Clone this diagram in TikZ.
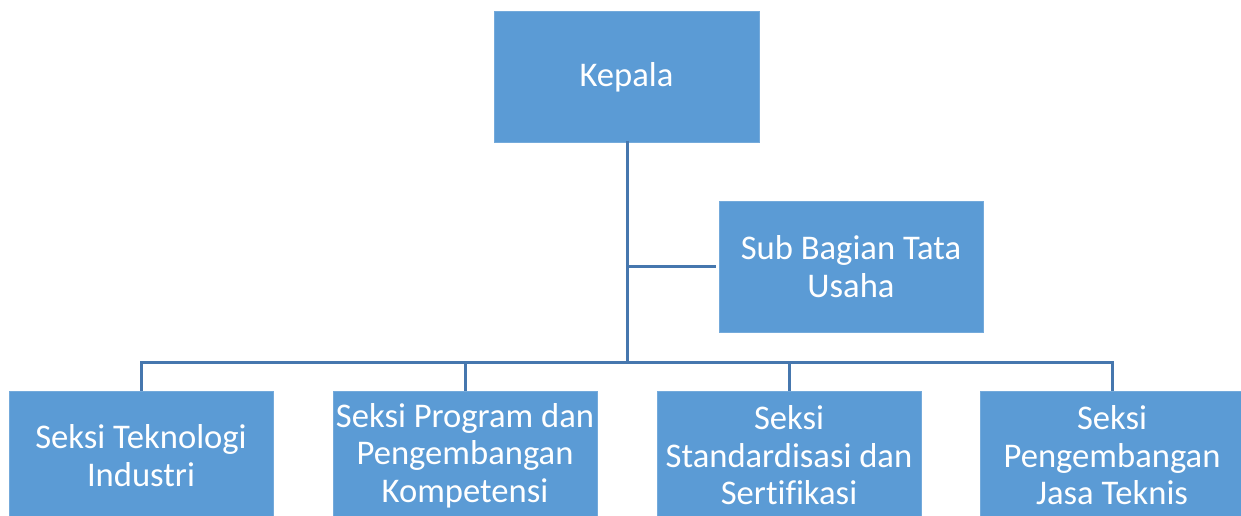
\documentclass[tikz,border=0pt]{standalone}
\usepackage{fontspec}
\setmainfont[Ligatures={NoCommon}]{Carlito}
\definecolor{boxfill}{HTML}{5B9BD5}
\definecolor{linecol}{HTML}{4677AE}
\begin{document}
\begin{tikzpicture}[x=1pt,y=-1pt,
  orgbox/.style={rectangle, fill=boxfill, draw=boxfill!85!white, line width=0.6pt, text=white,
    align=center, inner sep=0pt,
    font=\fontsize{34.6}{37.5}\selectfont},
  conn/.style={draw=linecol, line width=3pt}]
\useasboundingbox (0,0) rectangle (1241,515);
\clip (0,0) rectangle (1241,515);
\node[orgbox, minimum width=265pt, minimum height=131pt] (kepala) at (626.5,77) {Kepala};
\node[orgbox, minimum width=264pt, minimum height=131pt] (sub) at (851,266.5) {Sub Bagian Tata\\Usaha};
\node[orgbox, minimum width=264pt, minimum height=129pt] (b1) at (141,455.5) {Seksi Teknologi\\Industri};
\node[orgbox, minimum width=264pt, minimum height=129pt] (b2) at (465,455.5) {Seksi Program dan\\Pengembangan\\Kompetensi};
\node[orgbox, minimum width=264pt, minimum height=129pt] (b3) at (789,455.5) {Seksi\\Standardisasi dan\\Sertifikasi};
\node[orgbox, minimum width=264pt, minimum height=129pt] (b4) at (1112,455.5) {Seksi\\Pengembangan\\Jasa Teknis};
\coordinate (bus) at (627,362);
\draw[conn] ([yshift=2pt]kepala.south -| bus) -- (bus);
\draw[conn] ([xshift=-3pt]sub.west) -- (sub.west -| bus);
\draw[conn] (b1.north) |- (bus) -| (b4.north);
\draw[conn] (b2.north) -- (b2.north |- bus);
\draw[conn] (b3.north) -- (b3.north |- bus);
\end{tikzpicture}
\end{document}
